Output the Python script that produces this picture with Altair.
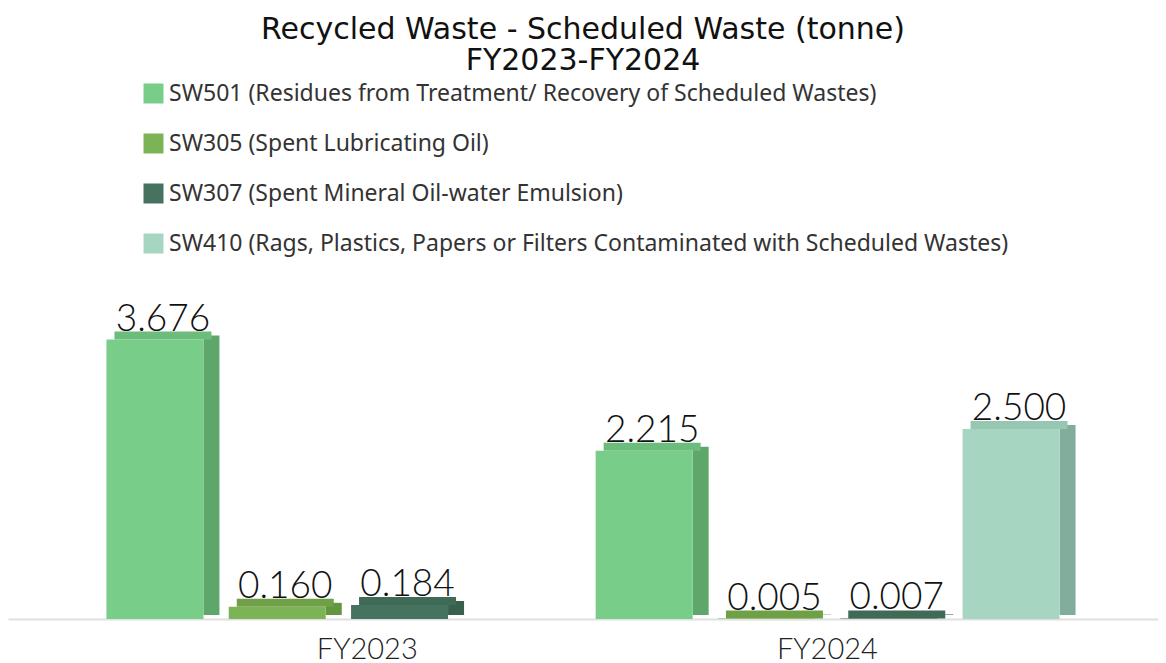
import altair as alt
import pandas as pd

categories = ["FY2023", "FY2023", "FY2023", "FY2024", "FY2024", "FY2024", "FY2024"]
series = ["SW501", "SW305", "SW307", "SW501", "SW305", "SW307", "SW410"]
values = [3.676, 0.160, 0.184, 2.215, 0.005, 0.007, 2.500]
labels = ["3.676", "0.160", "0.184", "2.215", "0.005", "0.007", "2.500"]

series_order = ["SW501", "SW305", "SW307", "SW410"]
series_names = [
    "SW501 (Residues from Treatment/ Recovery of Scheduled Wastes)",
    "SW305 (Spent Lubricating Oil)",
    "SW307 (Spent Mineral Oil-water Emulsion)",
    "SW410 (Rags, Plastics, Papers or Filters Contaminated with Scheduled Wastes)",
]
front_colors = ["#78CE89", "#7CB356", "#46735F", "#A6D6C2"]
top_colors = ["#6CBC7B", "#6FA048", "#3F6A56", "#97C6B2"]
side_colors = ["#5FA66B", "#64953F", "#37604D", "#82AC9B"]

cat_order = ["FY2023", "FY2024"]
slot_domain = [f"{c}|{s}" for c in cat_order for s in series_order]

name_map = dict(zip(series_order, series_names))
df = pd.DataFrame({
    "cat": categories,
    "series": series,
    "value": values,
    "label": labels,
})
df["slot"] = df["cat"] + "|" + df["series"]
df["name"] = df["series"].map(name_map)

x_enc = alt.X(
    "slot:N",
    scale=alt.Scale(domain=slot_domain, paddingInner=0.207, paddingOuter=0.805),
    axis=alt.Axis(
        title=None,
        ticks=False,
        domainColor="#E0E0E0",
        domainWidth=2,
        labelExpr="datum.value == 'FY2023|SW305' ? 'FY2023' : (datum.value == 'FY2024|SW305' ? 'FY2024' : '')",
        labelOffset={"condition": {"test": "datum.value == 'FY2023|SW305'", "value": 90}, "value": 61},
        labelAngle=0,
        labelFont="Lato",
        labelFontWeight=300,
        labelFontSize=29,
        labelColor="#222222",
        labelPadding=16,
        labelBaseline="top",
        labelOverlap=False,
    ),
)
y_scale = alt.Scale(domain=[0, 4.5], nice=False)
y_enc = alt.Y("value:Q", scale=y_scale, axis=None)

base = alt.Chart(df)

side = base.mark_bar(width=16, xOffset=56.5, yOffset=-4, y2Offset=-4).encode(
    x=x_enc,
    y=y_enc,
    y2=alt.datum(0),
    color=alt.Color("series:N", scale=alt.Scale(domain=series_order, range=side_colors), legend=None),
)

top = base.mark_bar(xOffset=8, yOffset=-8, y2Offset=0).encode(
    x=x_enc,
    y=y_enc,
    y2="value:Q",
    color=alt.Color("series:N", scale=alt.Scale(domain=series_order, range=top_colors), legend=None),
)

front = base.mark_bar().encode(
    x=x_enc,
    y=y_enc,
    color=alt.Color(
        "name:N",
        scale=alt.Scale(domain=series_names, range=front_colors),
        legend=alt.Legend(
            title=None,
            orient="none",
            legendX=134,
            legendY=-195,
            symbolType="square",
            symbolSize=400,
            symbolStrokeWidth=0,
            symbolOpacity=1,
            labelFont="Noto Sans",
            labelFontSize=23,
            labelColor="#333333",
            labelLimit=1000,
            labelOffset=4,
            rowPadding=26,
        ),
    ),
)

text = base.mark_text(
    dx=8, dy=-9, baseline="alphabetic", align="center",
    font="Lato", fontWeight=300, fontSize=37, color="#111111",
).encode(
    x=x_enc,
    y=y_enc,
    text="label:N",
)

chart = (
    alt.layer(side, top, front, text)
    .resolve_scale(color="independent")
    .properties(
        width=1150,
        height=342,
        autosize=alt.AutoSizeParams(type="none"),
        padding={"left": 0, "top": 269, "right": 0, "bottom": 46},
        title=alt.Title(
            ["Recycled Waste - Scheduled Waste (tonne)", "FY2023-FY2024"],
            font="DejaVu Sans",
            fontSize=30,
            fontWeight="normal",
            color="#111111",
            anchor="middle",
            lineHeight=31,
            offset=6,
        ),
    )
    .configure_view(stroke=None)
)

chart.save("out.html", embed_options={"renderer": "svg", "actions": False})
